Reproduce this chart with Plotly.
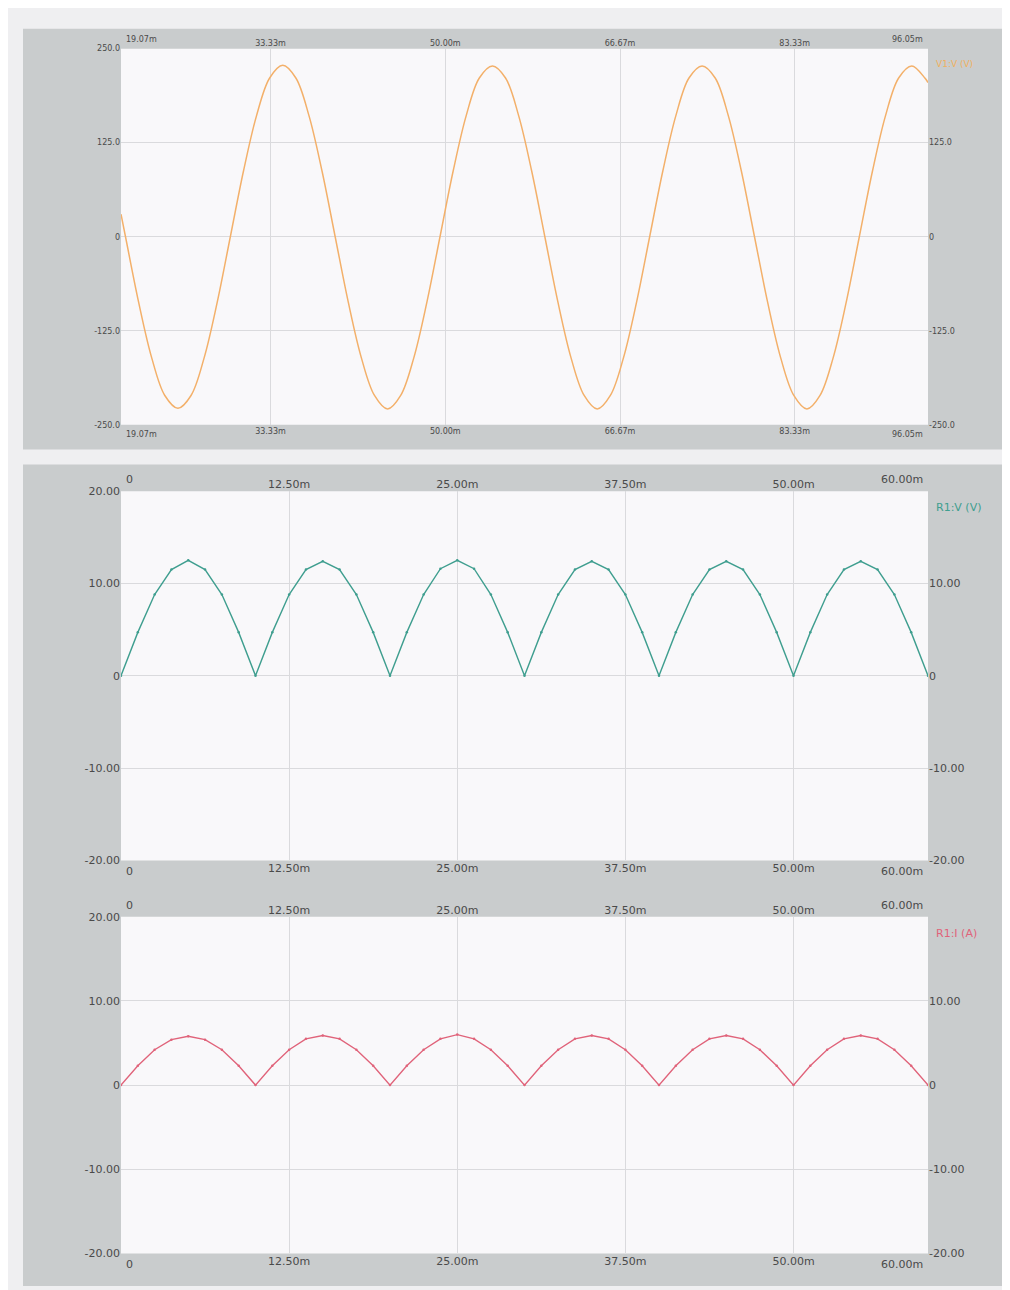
import numpy as np
import plotly.graph_objects as go

# ---------------- data ----------------
# Panel 1: source sine, time in ms
v1_time = [19.07] + [round(19.5 + 1.25 * i, 2) for i in range(62)] + [96.05]
v1_values = [30,
             0, -87, -161, -211, -228, -211, -161, -87, 0, 87, 161, 211, 228, 211, 161, 87,
             0, -87, -161, -211, -229, -211, -161, -87, 0, 87, 161, 211, 227, 211, 161, 87,
             0, -87, -161, -211, -229, -211, -161, -87, 0, 87, 161, 211, 227, 211, 161, 87,
             0, -87, -161, -211, -229, -211, -161, -87, 0, 87, 161, 211, 227, 211,
             205]
v1_xticks = [33.33, 50.00, 66.67, 83.33]
v1_xticktext = ["33.33m", "50.00m", "66.67m", "83.33m"]
v1_xrange = [19.07, 96.05]
v1_xedge = ["19.07m", "96.05m"]
v1_yticks = [250, 125, 0, -125, -250]
v1_yticktext = ["250.0", "125.0", "0", "-125.0", "-250.0"]
v1_name = "V1:V (V)"

# Panel 2: rectified voltage R1:V
r1v_time = [round(1.25 * i, 2) for i in range(49)]
r1v_values = [0, 4.7, 8.8, 11.5, 12.5, 11.5, 8.8, 4.7,
              0, 4.7, 8.8, 11.5, 12.4, 11.5, 8.8, 4.7,
              0, 4.7, 8.8, 11.6, 12.5, 11.6, 8.8, 4.7,
              0, 4.7, 8.8, 11.5, 12.4, 11.5, 8.8, 4.7,
              0, 4.7, 8.8, 11.5, 12.4, 11.5, 8.8, 4.7,
              0, 4.7, 8.8, 11.5, 12.4, 11.5, 8.8, 4.7,
              0]
r1v_name = "R1:V (V)"

# Panel 3: current R1:I
r1i_time = [round(1.25 * i, 2) for i in range(49)]
r1i_values = [0, 2.3, 4.2, 5.4, 5.8, 5.4, 4.2, 2.3,
              0, 2.3, 4.2, 5.5, 5.9, 5.5, 4.2, 2.3,
              0, 2.3, 4.2, 5.5, 6.0, 5.5, 4.2, 2.3,
              0, 2.3, 4.2, 5.5, 5.9, 5.5, 4.2, 2.3,
              0, 2.3, 4.2, 5.5, 5.9, 5.5, 4.2, 2.3,
              0, 2.3, 4.2, 5.5, 5.9, 5.5, 4.2, 2.3,
              0]
r1i_name = "R1:I (A)"

lower_xticks = [12.5, 25.0, 37.5, 50.0]
lower_xticktext = ["12.50m", "25.00m", "37.50m", "50.00m"]
lower_xrange = [0, 60]
lower_xedge = ["0", "60.00m"]
lower_yticks = [20, 10, 0, -10, -20]
lower_yticktext = ["20.00", "10.00", "0", "-10.00", "-20.00"]

# ---------------- layout helpers ----------------
W, H = 1010, 1290
def px(x): return x / W
def py(y): return 1 - y / H

XDOM = [px(113), px(920)]
P1 = [py(415), py(35)]
P2 = [py(855), py(482)]
P3 = [py(1252), py(912)]

GRID = "#dadadd"
TXT = "#4a4a4a"
FONT = "DejaVu Sans"
PLOTBG = "#f9f8fa"

fig = go.Figure()
fig.add_trace(go.Scatter(x=v1_time, y=v1_values, mode="lines",
                         line=dict(color="#f3b06a", width=1.5, shape="spline", smoothing=1.0),
                         xaxis="x", yaxis="y", showlegend=False))
fig.add_trace(go.Scatter(x=r1v_time, y=r1v_values, mode="lines+markers",
                         line=dict(color="#3f9e8f", width=1.4),
                         marker=dict(size=2.5, color="#3f9e8f"),
                         xaxis="x3", yaxis="y3", showlegend=False))
fig.add_trace(go.Scatter(x=r1i_time, y=r1i_values, mode="lines+markers",
                         line=dict(color="#e0637a", width=1.4),
                         marker=dict(size=2.5, color="#e0637a"),
                         xaxis="x5", yaxis="y5", showlegend=False))

# invisible carriers so the overlaying (top / right) axes are drawn
for xa, ya, xr, yr in [("x2", "y2", v1_xrange, [-250, 250]),
                       ("x4", "y4", lower_xrange, [-20, 20]),
                       ("x6", "y6", lower_xrange, [-20, 20])]:
    fig.add_trace(go.Scatter(x=xr, y=yr, mode="markers", marker=dict(opacity=0, size=1),
                             hoverinfo="skip", xaxis=xa, yaxis=ya, showlegend=False))

def xax(rng, ticks, text, anchor, side, overlay=None, size=11, grid=True):
    d = dict(domain=XDOM, range=rng, tickvals=ticks, ticktext=text, side=side,
             anchor=anchor, showgrid=grid, gridcolor=GRID, zeroline=False,
             showline=False, ticks="", tickfont=dict(size=size, color=TXT, family=FONT),
             fixedrange=True)
    if overlay:
        d["overlaying"] = overlay
    return d

def yax(dom, rng, ticks, text, anchor, side, overlay=None, size=11, grid=True):
    d = dict(domain=dom, range=rng, tickvals=ticks, ticktext=text, side=side,
             anchor=anchor, showgrid=grid, gridcolor=GRID, zeroline=False,
             showline=False, ticks="", tickfont=dict(size=size, color=TXT, family=FONT),
             fixedrange=True)
    if overlay:
        d["overlaying"] = overlay
    return d

layout = dict(
    width=W, height=H, autosize=False,
    margin=dict(l=0, r=0, t=0, b=0),
    paper_bgcolor="#efeff1", plot_bgcolor=PLOTBG,
    showlegend=False,
    xaxis=xax(v1_xrange, v1_xticks, v1_xticktext, "y", "bottom", size=8),
    xaxis2=xax(v1_xrange, v1_xticks, v1_xticktext, "y2", "top", overlay="x", size=8, grid=False),
    yaxis=yax(P1, [-250, 250], v1_yticks, v1_yticktext, "x", "left", size=8),
    yaxis2=yax(P1, [-250, 250], v1_yticks[1:], v1_yticktext[1:], "x2", "right", overlay="y", size=8, grid=False),
    xaxis3=xax(lower_xrange, lower_xticks, lower_xticktext, "y3", "bottom"),
    xaxis4=xax(lower_xrange, lower_xticks, lower_xticktext, "y4", "top", overlay="x3", grid=False),
    yaxis3=yax(P2, [-20, 20], lower_yticks, lower_yticktext, "x3", "left"),
    yaxis4=yax(P2, [-20, 20], lower_yticks[1:], lower_yticktext[1:], "x4", "right", overlay="y3", grid=False),
    xaxis5=xax(lower_xrange, lower_xticks, lower_xticktext, "y5", "bottom"),
    xaxis6=xax(lower_xrange, lower_xticks, lower_xticktext, "y6", "top", overlay="x5", grid=False),
    yaxis5=yax(P3, [-20, 20], lower_yticks, lower_yticktext, "x5", "left"),
    yaxis6=yax(P3, [-20, 20], lower_yticks[1:], lower_yticktext[1:], "x6", "right", overlay="y5", grid=False),
)
fig.update_layout(**layout)

# gray instrument frames, then white plotting windows on top of them
for y0, y1 in [(440, 15), (1285, 455)]:
    fig.add_shape(type="rect", xref="paper", yref="paper",
                  x0=px(15), x1=px(1005), y0=py(y0), y1=py(y1),
                  fillcolor="#c9cccd", line=dict(width=0), layer="below")
for dom in (P1, P2, P3):
    fig.add_shape(type="rect", xref="paper", yref="paper",
                  x0=XDOM[0], x1=XDOM[1], y0=dom[0], y1=dom[1],
                  fillcolor=PLOTBG, line=dict(width=0), layer="below")

# edge labels of the time axes (start / end of window)
def edge_labels(dom, texts, size):
    for yy, ya in [(dom[1], "bottom"), (dom[0], "top")]:
        sh = 3 if ya == "bottom" else -3
        fig.add_annotation(xref="paper", yref="paper", x=XDOM[0], y=yy, text=texts[0],
                           xanchor="left", yanchor=ya, showarrow=False, yshift=sh, xshift=3,
                           font=dict(size=size, color=TXT, family=FONT))
        fig.add_annotation(xref="paper", yref="paper", x=XDOM[1], y=yy, text=texts[1],
                           xanchor="right", yanchor=ya, showarrow=False, yshift=sh, xshift=-3,
                           font=dict(size=size, color=TXT, family=FONT))

edge_labels(P1, v1_xedge, 8)
edge_labels(P2, lower_xedge, 11)
edge_labels(P3, lower_xedge, 11)

# trace names at top right of each panel
for dom, name, col, size in [(P1, v1_name, "#f0b060", 9), (P2, r1v_name, "#3f9e8f", 11),
                             (P3, r1i_name, "#e0637a", 11)]:
    fig.add_annotation(xref="paper", yref="paper", x=XDOM[1], y=dom[1], text=name,
                       xanchor="left", yanchor="top", xshift=6, yshift=-8, showarrow=False,
                       font=dict(size=size, color=col, family=FONT))

fig.write_html("out.html")
